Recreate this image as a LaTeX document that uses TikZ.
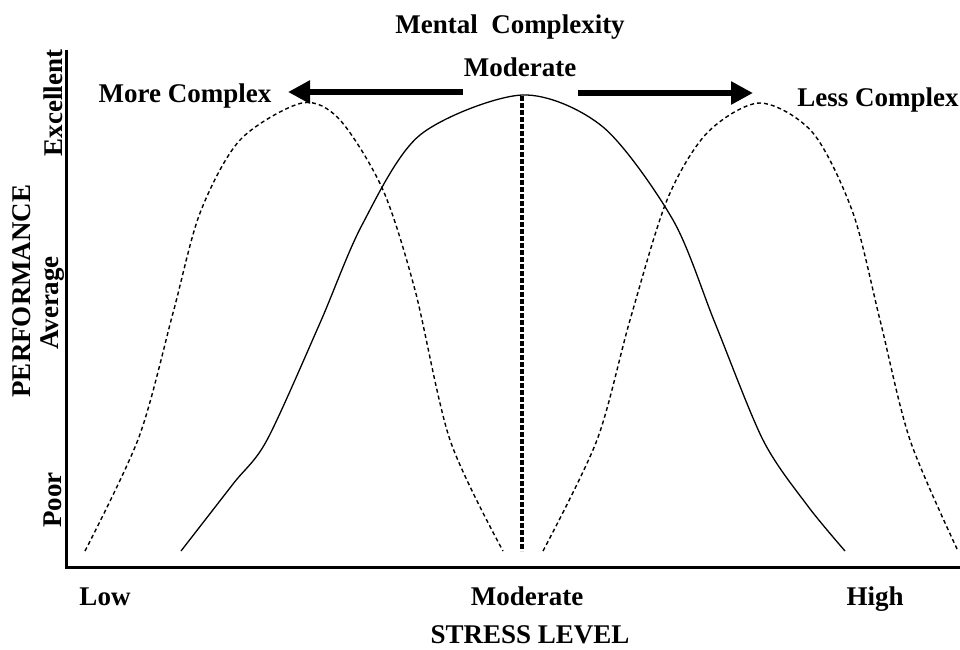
\documentclass[tikz,border=0pt]{standalone}
\usepackage{fontspec}
\setmainfont{Liberation Serif}
\usetikzlibrary{arrows.meta}
\begin{document}
\begin{tikzpicture}[x=1pt,y=-1pt,
  lbl/.style={font=\fontsize{27}{30}\selectfont\bfseries, inner sep=0pt},
  axisline/.style={line width=3pt},
  bigarrow/.style={line width=6pt, -{Triangle[length=22pt,width=22pt]}},
  curve/.style={line width=1.3pt, line join=round},
  shifted/.style={line width=1.4pt, dash pattern=on 4pt off 3pt},
  centreline/.style={line width=3.2pt, dash pattern=on 5pt off 2pt}]
\useasboundingbox (0,0) rectangle (960,649);

% axes
\coordinate (top) at (66,50);
\coordinate (origin) at (66,567);
\coordinate (right) at (960,567);
\draw[axisline] (top) -- (origin) -- (right);

% axis labels
\node[lbl, rotate=90] (perf) at (22,291) {PERFORMANCE};
\node[lbl, rotate=90] (excellent) at (53,103) {Excellent};
\node[lbl, rotate=90] (average) at (53,303) {Average};
\node[lbl, rotate=90] (poor) at (53,500) {Poor};
\node[lbl, anchor=base] (low) at (105,605) {Low};
\node[lbl, anchor=base] (modx) at (527,605) {Moderate};
\node[lbl, anchor=base] (high) at (875,605) {High};
\node[lbl, anchor=base] (stress) at (530,643) {STRESS LEVEL};

% top labels
\node[lbl, anchor=base] (mental) at (510,33) {Mental\ \ Complexity};
\node[lbl, anchor=base] (modtop) at (520,76) {Moderate};
\node[lbl, anchor=base] (more) at (185,102) {More Complex};
\node[lbl, anchor=base] (less) at (878,106) {Less Complex};

% shift arrows
\coordinate (la) at (463,92);
\coordinate (lt) at (288,92);
\coordinate (ra) at (578,93);
\coordinate (rt) at (753,93);
\draw[bigarrow] (la) -- (lt);
\draw[bigarrow] (ra) -- (rt);

% centre line at moderate stress
\coordinate (ct) at (522,96);
\coordinate (cb) at (522,551);
\draw[centreline] (ct) -- (cb);

% performance curve for moderate complexity
\draw[curve] plot[smooth, tension=0.5] coordinates {
  (181,551) (233,484) (267,440) (320,323) (362,225) (420,135)
  (522,95) (603,127) (673,220) (715,323) (763,440) (807,505) (845,551)};

% curve shifted for more complex tasks
\draw[shifted] plot[smooth, tension=0.5] coordinates {
  (85,551) (139,437) (173,313) (200,213) (240,140) (302,103)
  (340,120) (383,190) (415,290) (450,440) (503,551)};

% curve shifted for less complex tasks
\draw[shifted] plot[smooth, tension=0.5] coordinates {
  (543,551) (597,440) (630,320) (667,200) (707,133) (760,103)
  (813,133) (853,213) (880,320) (910,440) (958,551)};
\end{tikzpicture}
\end{document}
